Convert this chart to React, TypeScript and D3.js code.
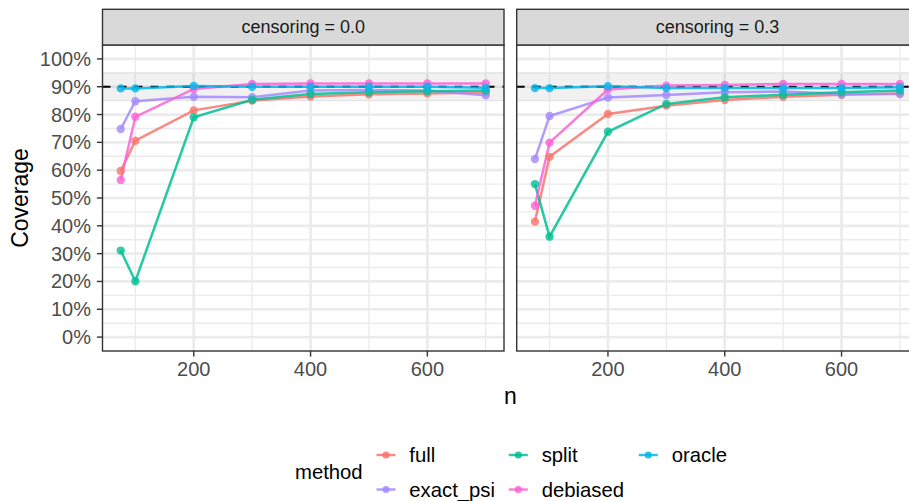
import React from "react";
import * as d3 from "d3";

const nValues = [75, 100, 200, 300, 400, 500, 600, 700];
const methods = ["full", "exact_psi", "split", "debiased", "oracle"];
const methodColors = ["#F8766D", "#A58AFF", "#00C094", "#FB61D7", "#00B6EB"];
const panels = ["censoring = 0.0", "censoring = 0.3"];

// coverage (%) for censoring = 0.0
const full0 = [59.7, 70.6, 81.5, 85.0, 86.5, 87.3, 87.6, 87.9];
const exactPsi0 = [74.8, 84.8, 86.4, 86.2, 88.6, 88.8, 88.6, 86.9];
const split0 = [31.1, 20.1, 79.0, 85.3, 87.4, 88.0, 88.4, 88.6];
const debiased0 = [56.5, 79.2, 89.2, 91.0, 91.2, 91.2, 91.2, 91.2];
const oracle0 = [89.4, 89.4, 90.3, 90.0, 90.0, 90.0, 90.0, 89.6];

// coverage (%) for censoring = 0.3
const full3 = [41.5, 64.8, 80.2, 83.2, 85.2, 86.4, 87.1, 87.6];
const exactPsi3 = [64.0, 79.5, 86.1, 87.0, 88.0, 88.3, 87.4, 87.4];
const split3 = [55.0, 36.1, 73.8, 83.8, 86.2, 87.1, 88.0, 88.6];
const debiased3 = [47.2, 69.9, 89.0, 90.4, 90.6, 91.0, 91.0, 91.0];
const oracle3 = [89.5, 89.5, 90.2, 89.5, 89.5, 89.5, 89.5, 89.8];

const panelSeries = [
  [full0, exactPsi0, split0, debiased0, oracle0],
  [full3, exactPsi3, split3, debiased3, oracle3],
];

const yTicks = [0, 10, 20, 30, 40, 50, 60, 70, 80, 90, 100];
const yMinor = [5, 15, 25, 35, 45, 55, 65, 75, 85, 95];
const xTicks = [200, 400, 600];
const xMinor = [100, 300, 500, 700];
const target = 90;
const bandLow = 85;
const bandHigh = 95;

const FONT = "Liberation Sans, Arial, Helvetica, sans-serif";

export default function App() {
  const W = 909;
  const H = 501;
  const panelTop = 45;
  const panelBottom = 351;
  const stripTop = 9.3;
  const panelLefts = [102.5, 516.7];
  const panelWidth = 401.5;

  const y = d3.scaleLinear().domain([-5, 105]).range([panelBottom, panelTop]);
  const line = (xs: d3.ScaleLinear<number, number>) =>
    d3
      .line<number>()
      .x((_, i) => xs(nValues[i]))
      .y((d) => y(d));

  return (
    <svg
      width={W}
      height={H}
      style={{ position: "absolute", left: 0, top: 0, background: "#fff" }}
      fontFamily={FONT}
    >
      <defs>
        {panelLefts.map((px, p) => (
          <clipPath id={`clip${p}`} key={p}>
            <rect x={px} y={panelTop} width={panelWidth} height={panelBottom - panelTop} />
          </clipPath>
        ))}
      </defs>
      {panelLefts.map((px, p) => {
        const x = d3.scaleLinear().domain([43.75, 731.25]).range([px, px + panelWidth]);
        const lg = line(x);
        return (
          <g key={p}>
            <rect x={px} y={panelTop} width={panelWidth} height={panelBottom - panelTop} fill="#fff" />
            <g clipPath={`url(#clip${p})`}>
              {yMinor.map((v) => (
                <line key={"ym" + v} x1={px} x2={px + panelWidth} y1={y(v)} y2={y(v)} stroke="#EBEBEB" strokeWidth={1.4} />
              ))}
              {xMinor.map((v) => (
                <line key={"xm" + v} x1={x(v)} x2={x(v)} y1={panelTop} y2={panelBottom} stroke="#EBEBEB" strokeWidth={1.4} />
              ))}
              {yTicks.map((v) => (
                <line key={"yM" + v} x1={px} x2={px + panelWidth} y1={y(v)} y2={y(v)} stroke="#EBEBEB" strokeWidth={2.7} />
              ))}
              {xTicks.map((v) => (
                <line key={"xM" + v} x1={x(v)} x2={x(v)} y1={panelTop} y2={panelBottom} stroke="#EBEBEB" strokeWidth={2.7} />
              ))}
              <rect
                x={px}
                width={panelWidth}
                y={y(bandHigh)}
                height={y(bandLow) - y(bandHigh)}
                fill="#000"
                fillOpacity={0.055}
              />
              <line
                x1={px}
                x2={px + panelWidth}
                y1={y(target)}
                y2={y(target)}
                stroke="#000"
                strokeWidth={2.2}
                strokeDasharray="8 8"
              />
              {panelSeries[p].map((vals, m) => (
                <path
                  key={"l" + m}
                  d={lg(vals) || ""}
                  fill="none"
                  stroke={methodColors[m]}
                  strokeWidth={2.5}
                  strokeOpacity={0.85}
                />
              ))}
              {panelSeries[p].map((vals, m) =>
                vals.map((v, i) => (
                  <circle
                    key={"c" + m + "-" + i}
                    cx={x(nValues[i])}
                    cy={y(v)}
                    r={4.2}
                    fill={methodColors[m]}
                    fillOpacity={0.8}
                  />
                ))
              )}
            </g>
            <rect
              x={px}
              y={panelTop}
              width={panelWidth}
              height={panelBottom - panelTop}
              fill="none"
              stroke="#333333"
              strokeWidth={1.4}
            />
            <rect
              x={px}
              y={stripTop}
              width={panelWidth}
              height={panelTop - stripTop}
              fill="#D9D9D9"
              stroke="#333333"
              strokeWidth={1.4}
            />
            <text
              x={px + panelWidth / 2}
              y={(stripTop + panelTop) / 2}
              textAnchor="middle"
              dominantBaseline="central"
              fontSize={18}
              fill="#1A1A1A"
            >
              {panels[p]}
            </text>
            {xTicks.map((v) => (
              <g key={"xt" + v}>
                <line x1={x(v)} x2={x(v)} y1={panelBottom} y2={panelBottom + 5.6} stroke="#333333" strokeWidth={1.4} />
                <text x={x(v)} y={panelBottom + 25} textAnchor="middle" fontSize={20} fill="#4D4D4D">
                  {v}
                </text>
              </g>
            ))}
            {p === 0 &&
              yTicks.map((v) => (
                <g key={"yt" + v}>
                  <line x1={px - 5.6} x2={px} y1={y(v)} y2={y(v)} stroke="#333333" strokeWidth={1.4} />
                  <text
                    x={px - 11.5}
                    y={y(v)}
                    textAnchor="end"
                    dominantBaseline="central"
                    fontSize={20}
                    fill="#4D4D4D"
                  >
                    {v + "%"}
                  </text>
                </g>
              ))}
          </g>
        );
      })}
      <text x={510.4} y={404} textAnchor="middle" fontSize={23} fill="#000">
        n
      </text>
      <text
        transform={`translate(28,${(panelTop + panelBottom) / 2}) rotate(-90)`}
        textAnchor="middle"
        fontSize={23}
        fill="#000"
      >
        Coverage
      </text>
      <text x={295} y={472.3} dominantBaseline="central" fontSize={20.3} fill="#000">
        method
      </text>
      {methods.map((m, i) => {
        const col = Math.floor(i / 2);
        const row = i % 2;
        const kx = [386, 518.3, 648.3][col];
        const tx = [409.3, 541.7, 671.7][col];
        const ky = [455, 489.5][row];
        return (
          <g key={m}>
            <line x1={kx - 9.5} x2={kx + 9.5} y1={ky} y2={ky} stroke={methodColors[i]} strokeWidth={2.4} strokeOpacity={0.85} />
            <circle cx={kx} cy={ky} r={3.6} fill={methodColors[i]} fillOpacity={0.85} />
            <text x={tx} y={ky} dominantBaseline="central" fontSize={20.3} fill="#000">
              {m}
            </text>
          </g>
        );
      })}
    </svg>
  );
}
